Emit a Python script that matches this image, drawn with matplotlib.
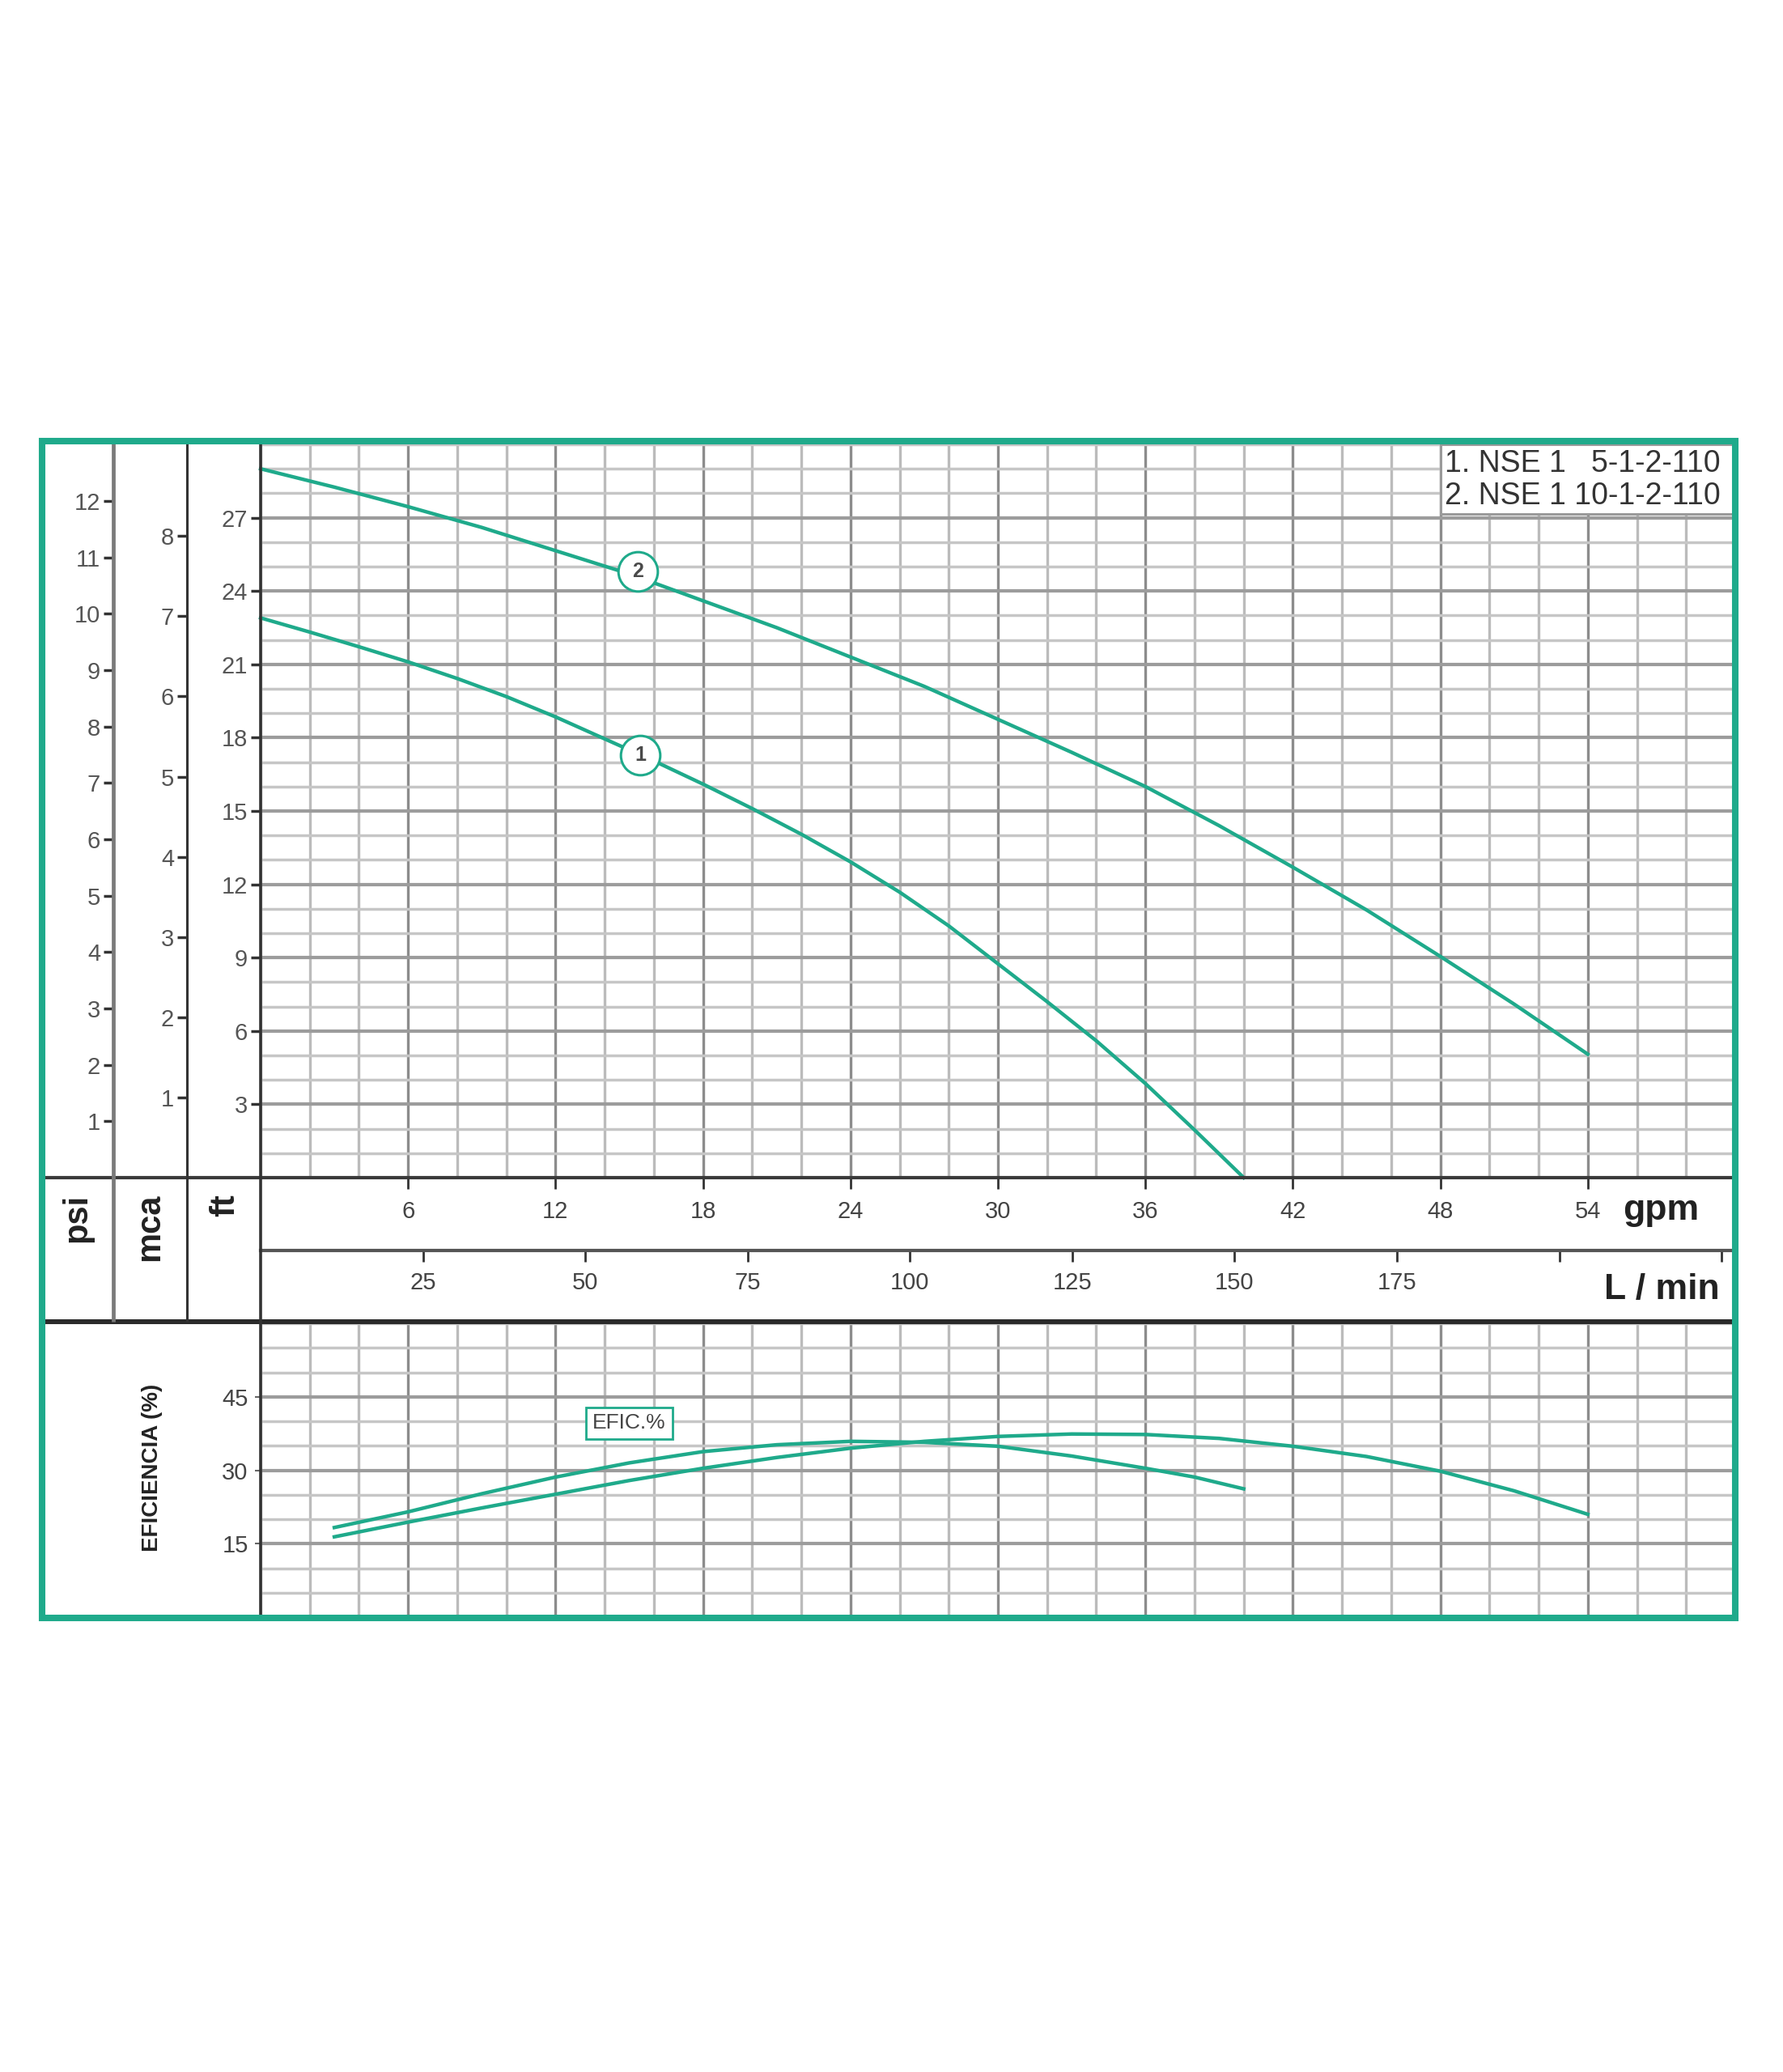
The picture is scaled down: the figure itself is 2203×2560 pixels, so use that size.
import matplotlib
matplotlib.use("Agg")
import matplotlib.pyplot as plt
from matplotlib.lines import Line2D
from matplotlib.patches import Rectangle
from matplotlib.ticker import MultipleLocator

plt.rcParams['font.family'] = ['Liberation Sans', 'DejaVu Sans']

# head curves (gpm -> ft)
gpm_1 = [0, 2, 4, 6, 8, 10, 12, 14, 16, 18, 20, 22, 24, 26, 28, 30, 32, 34, 36, 38, 40]
ft_1 = [22.9, 22.32, 21.72, 21.1, 20.42, 19.68, 18.85, 17.95, 17.05, 16.1, 15.1, 14.05,
        12.92, 11.68, 10.3, 8.75, 7.2, 5.6, 3.85, 1.95, 0.0]
gpm_2 = [0, 3, 6, 9, 12, 15, 18, 21, 24, 27, 30, 33, 36, 39, 42, 45, 48, 51, 54]
ft_2 = [29.0, 28.25, 27.45, 26.6, 25.65, 24.7, 23.6, 22.5, 21.3, 20.1, 18.75, 17.4,
        16.0, 14.4, 12.7, 10.95, 9.05, 7.1, 5.05]

# efficiency curves (gpm -> %)
eff_gpm_1 = [3, 6, 9, 12, 15, 18, 21, 24, 27, 30, 33, 36, 38, 40]
eff_1 = [18.3, 21.5, 25.2, 28.6, 31.5, 33.8, 35.2, 35.9, 35.7, 34.9, 32.9, 30.4, 28.6, 26.2]
eff_gpm_2 = [3, 6, 9, 12, 15, 18, 21, 24, 27, 30, 33, 36, 39, 42, 45, 48, 51, 54]
eff_2 = [16.4, 19.4, 22.3, 25.1, 27.9, 30.4, 32.6, 34.5, 35.9, 36.9, 37.4, 37.3, 36.5,
         34.9, 32.8, 29.8, 25.8, 21.0]

# curve number markers
label_names = ['1', '2']
label_gpm = [15.45, 15.35]
label_ft = [17.3, 24.8]

legend_lines = ['1. NSE 1   5-1-2-110', '2. NSE 1 10-1-2-110']

gpm_ticks = [6, 12, 18, 24, 30, 36, 42, 48, 54]
lpm_ticks = [25, 50, 75, 100, 125, 150, 175, 200, 225]
lpm_labels = ['25', '50', '75', '100', '125', '150', '175', '', '']
ft_ticks = [3, 6, 9, 12, 15, 18, 21, 24, 27]
mca_ticks = [1, 2, 3, 4, 5, 6, 7, 8]
psi_ticks = [1, 2, 3, 4, 5, 6, 7, 8, 9, 10, 11, 12]
eff_ticks = [15, 30, 45]

FT_PER_M = 3.281
FT_PER_PSI = 2.307
LPM_PER_GPM = 3.785

TEAL = '#1faa8b'
W, H = 2203, 2560


def fx(px):
    return px / W


def fy(py):
    return 1 - py / H


X0, X1 = 322, 2144
Y_TOP, Y_AX = 549, 1455
Y_LPM = 1545
Y_SEP = 1633
Y_BOT = 1998

fig = plt.figure(figsize=(W / 100, H / 100), dpi=100)


def style_grid(a, minor_y):
    a.xaxis.set_minor_locator(MultipleLocator(2))
    a.yaxis.set_minor_locator(MultipleLocator(minor_y))
    a.grid(which='major', axis='x', color='#8c8c8c', lw=2.4)
    a.grid(which='minor', axis='x', color='#bbbbbb', lw=2.4)
    a.grid(which='major', axis='y', color='#9c9c9c', lw=3.0)
    a.grid(which='minor', axis='y', color='#c6c6c6', lw=2.5)
    a.tick_params(which='minor', length=0)
    a.set_axisbelow(True)
    for s in a.spines.values():
        s.set_visible(False)


# ---- head chart
ax = fig.add_axes([fx(X0), fy(Y_AX), fx(X1) - fx(X0), fy(Y_TOP) - fy(Y_AX)])
ax.set_xlim(0, 60)
ax.set_ylim(0, 30)
ax.set_xticks(gpm_ticks)
ax.set_yticks(ft_ticks)
style_grid(ax, 1)
ax.tick_params(axis='y', which='major', direction='out', length=8.5, width=2.5,
               color='#333333', pad=3, labelsize=21, labelcolor='#555555')
ax.tick_params(axis='x', which='major', direction='out', length=10, width=2,
               color='#333333', pad=10, labelsize=21, labelcolor='#444444')

ax.plot(gpm_1, ft_1, color=TEAL, lw=3.2, zorder=3, clip_on=False)
ax.plot(gpm_2, ft_2, color=TEAL, lw=3.2, zorder=3, clip_on=False)
for name, gx, fv in zip(label_names, label_gpm, label_ft):
    ax.plot(gx, fv, 'o', ms=35, mfc='white', mec=TEAL, mew=2.2, zorder=4)
    ax.text(gx, fv, name, ha='center', va='center', fontsize=18, fontweight='bold',
            color='#4a4a4a', zorder=5)

span = X1 - X0
sec_m = ax.secondary_yaxis((231 - X0) / span,
                           functions=(lambda f: f / FT_PER_M, lambda m: m * FT_PER_M))
sec_p = ax.secondary_yaxis((140 - X0) / span,
                           functions=(lambda f: f / FT_PER_PSI, lambda p: p * FT_PER_PSI))
sec_m.set_yticks(mca_ticks)
sec_p.set_yticks(psi_ticks)
for sec in (sec_m, sec_p):
    for s in sec.spines.values():
        s.set_visible(False)
    sec.tick_params(direction='out', length=8.5, width=2.5, color='#333333', pad=3,
                    labelsize=21, labelcolor='#555555')

sec_l = ax.secondary_xaxis(-(Y_LPM - Y_AX) / (Y_AX - Y_TOP),
                           functions=(lambda g: g * LPM_PER_GPM, lambda l: l / LPM_PER_GPM))
sec_l.set_xticks(lpm_ticks, lpm_labels)
sec_l.spines['top'].set_visible(False)
sec_l.spines['bottom'].set_color('#555555')
sec_l.spines['bottom'].set_linewidth(3)
sec_l.tick_params(direction='out', length=10, width=2, color='#333333', pad=9,
                  labelsize=21, labelcolor='#444444')

# ---- efficiency chart
ax_e = fig.add_axes([fx(X0), fy(Y_BOT), fx(X1) - fx(X0), fy(1635) - fy(Y_BOT)])
ax_e.set_xlim(0, 60)
ax_e.set_ylim(0, 60)
ax_e.set_xticks(gpm_ticks)
ax_e.set_yticks(eff_ticks)
style_grid(ax_e, 5)
ax_e.tick_params(axis='x', which='major', length=0, labelbottom=False)
ax_e.tick_params(axis='y', which='major', direction='out', length=5, width=1.5,
                 color='#666666', pad=6, labelsize=21, labelcolor='#444444')
ax_e.plot(eff_gpm_1, eff_1, color=TEAL, lw=3.2, zorder=3)
ax_e.plot(eff_gpm_2, eff_2, color=TEAL, lw=3.2, zorder=3)
ax_e.text(15.0, 39.6, 'EFIC.%', ha='center', va='center', fontsize=19, color='#444444',
          zorder=5, bbox=dict(boxstyle='square,pad=0.3', fc='white', ec=TEAL, lw=2))

# ---- separators and frame
def fig_line(xs, ys, color, lw):
    fig.add_artist(Line2D([fx(x) for x in xs], [fy(y) for y in ys], color=color, lw=lw,
                          solid_capstyle='butt', transform=fig.transFigure))


fig_line([52, X1], [Y_AX, Y_AX], '#3a3a3a', 3.0)
fig_line([52, X1], [Y_SEP, Y_SEP], '#2a2a2a', 4.3)
fig_line([140, 140], [545, Y_SEP], '#7a7a7a', 3.4)
fig_line([231, 231], [545, Y_SEP], '#333333', 2.2)
fig_line([X0, X0], [545, 1999], '#333333', 2.6)

fig.add_artist(Rectangle((fx(1780), fy(635)), fx(X1) - fx(1780), fy(549) - fy(635),
                         fc='white', ec='#9a9a9a', lw=2.2, transform=fig.transFigure))
for i, line in enumerate(legend_lines):
    fig.text(fx(1785), fy(573 + 40 * i), line, ha='left', va='center', fontsize=27,
             color='#333333')

fig.add_artist(Rectangle((fx(52), fy(1999)), fx(2144) - fx(52), fy(545) - fy(1999),
                         fill=False, ec=TEAL, lw=5.8, transform=fig.transFigure, zorder=10))

# ---- axis names
for txt, x in (('psi', 95), ('mca', 185), ('ft', 278)):
    fig.text(fx(x), fy(1475), txt, rotation=90, ha='center', va='top', fontsize=30,
             fontweight='bold', color='#222222')
fig.text(fx(2052), fy(1496), 'gpm', ha='center', va='center', fontsize=32,
         fontweight='bold', color='#222222')
fig.text(fx(2053), fy(1594), 'L / min', ha='center', va='center', fontsize=32,
         fontweight='bold', color='#222222')
fig.text(fx(188), fy(1813), 'EFICIENCIA (%)', rotation=90, ha='center', va='center',
         fontsize=20, fontweight='bold', color='#222222')

fig.savefig('out.png', dpi=100, facecolor='white')
